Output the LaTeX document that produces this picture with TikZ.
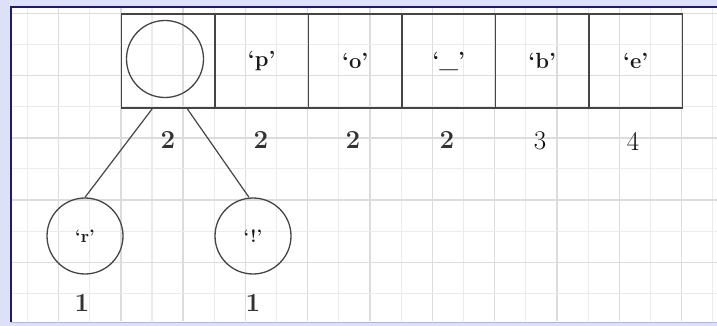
\documentclass[tikz,border=0pt]{standalone}
\usepackage{fontspec}
\usepackage{xcolor}
\definecolor{outerbg}{HTML}{DDE0F6}
\definecolor{framec}{HTML}{1C1C6A}
\definecolor{bottomc}{HTML}{AEB6E6}
\definecolor{gridmaj}{HTML}{DCDCDC}
\definecolor{gridmin}{HTML}{EBEBEB}
\definecolor{inkc}{HTML}{454545}
\tikzset{
  cell/.style={draw=inkc, line width=1.5pt, rectangle, minimum width=93.5pt, minimum height=94pt, inner sep=0pt, font=\fontsize{22}{26}\selectfont\bfseries, text=black!90},
  leaf/.style={draw=inkc, line width=1.3pt, circle, minimum size=76pt, inner sep=0pt, font=\fontsize{18}{21}\selectfont\bfseries, text=black!90},
  countlbl/.style={font=\fontsize{26}{30}\selectfont\bfseries, text=black!80},
  countlight/.style={font=\fontsize{27}{30}\selectfont, text=black!95},
  edge/.style={draw=inkc, line width=1.2pt}
}
\begin{document}
\begin{tikzpicture}[x=1pt,y=-1pt]
\useasboundingbox (0,0) rectangle (717,326);
\fill[outerbg] (0,0) rectangle (717,326);
\fill[white] (11,7) rectangle (717,322);
% grid
\begin{scope}
\clip (12,8) rectangle (717,321);
\foreach \i in {0,...,23} {
  \pgfmathsetmacro{\xx}{27.4+31.15*\i}
  \ifodd\i
    \draw[gridmaj, line width=1.4pt] (\xx,8) -- (\xx,321);
  \else
    \draw[gridmin, line width=1.1pt] (\xx,8) -- (\xx,321);
  \fi
}
\foreach \j in {0,...,10} {
  \pgfmathsetmacro{\yy}{13.4+31.1*\j}
  \ifodd\j
    \draw[gridmin, line width=1.1pt] (12,\yy) -- (717,\yy);
  \else
    \draw[gridmaj, line width=1.4pt] (12,\yy) -- (717,\yy);
  \fi
}
\end{scope}
% frame
\draw[framec, line width=2.5pt] (11,322) -- (11,7) -- (717,7);
\draw[bottomc, line width=1.5pt] (11,322.5) -- (717,322.5);
% array
\node[cell] (c0) at (168.25,61) {};
\node[cell] (c1) at (261.75,61) {`p'};
\node[cell] (c2) at (355.25,61) {`o'};
\node[cell] (c3) at (448.75,61) {`\_'};
\node[cell] (c4) at (542.25,61) {`b'};
\node[cell] (c5) at (635.75,61) {`e'};
\node[circle, draw=inkc, line width=1.3pt, minimum size=77pt, inner sep=0pt] (root) at (165,59) {};
% counts
\node[countlbl] (n0) at (168,140) {2};
\node[countlbl] (n1) at (261,140) {2};
\node[countlbl] (n2) at (353,140) {2};
\node[countlbl] (n3) at (447,140) {2};
\node[countlight] (n4) at (540,141) {3};
\node[countlight] (n5) at (633,141) {4};
% leaves
\node[leaf] (r) at (85,236) {`r'};
\node[leaf] (ex) at (253,236) {`!'};
\node[countlbl] (m0) at (82,303) {1};
\node[countlbl] (m1) at (253,303) {1};
% edges
\draw[edge] ([xshift=-16pt]c0.south) -- (r.north);
\draw[edge] ([xshift=19pt]c0.south) -- ([xshift=-4pt]ex.north);
\end{tikzpicture}
\end{document}
